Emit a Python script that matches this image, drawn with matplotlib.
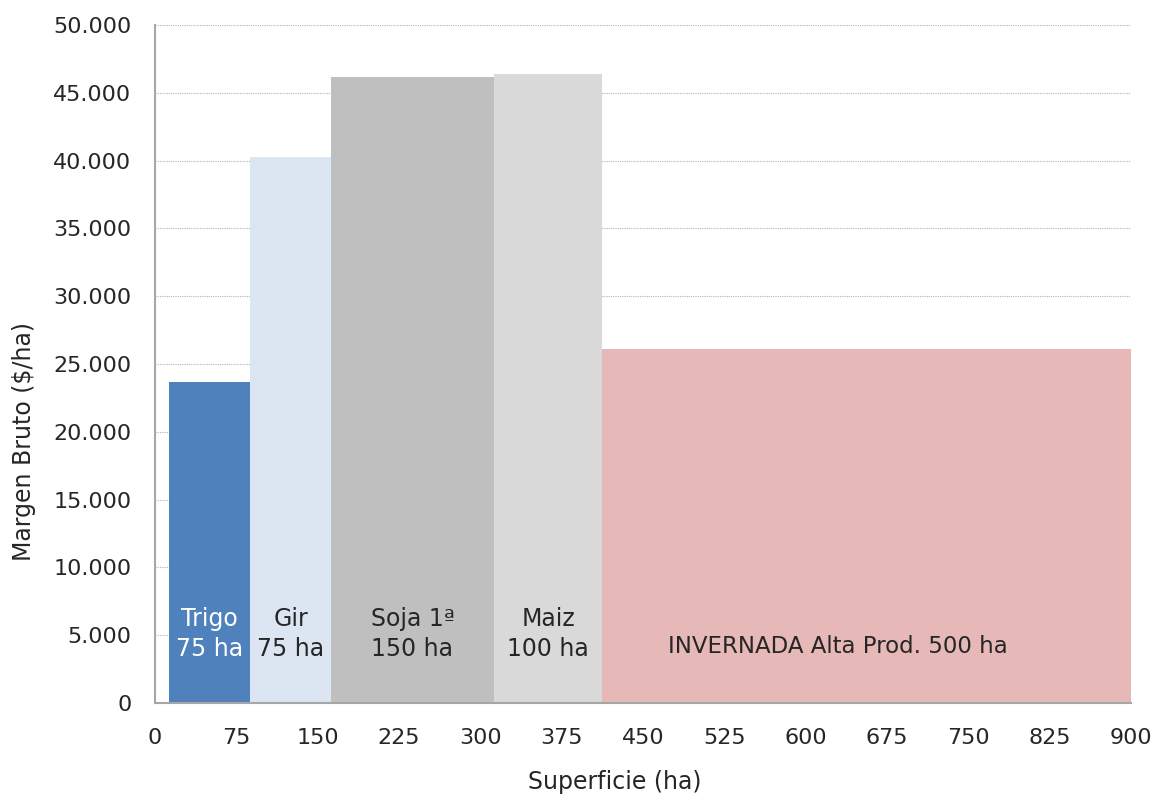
import matplotlib.pyplot as plt
from matplotlib.ticker import FuncFormatter

# datos: cultivo, superficie (ha) y margen bruto ($/ha)
cultivos = ['Trigo\n75 ha', 'Gir\n75 ha', 'Soja 1ª\n150 ha', 'Maiz\n100 ha', 'INVERNADA Alta Prod. 500 ha']
superficie = [75, 75, 150, 100, 500]
margen = [23700, 40300, 46150, 46400, 26100]
colores = ['#4f81bd', '#dce6f2', '#bfbfbf', '#d9d9d9', '#e6b8b7']
color_texto = ['white', '#262626', '#262626', '#262626', '#262626']

x_ticks = list(range(0, 901, 75))
y_ticks = list(range(0, 50001, 5000))

inicio = 12.5  # desplazamiento del primer bloque (como en el original)

plt.rcParams['font.family'] = 'DejaVu Sans'

fig = plt.figure(figsize=(11.54, 7.98), dpi=100)
ax = fig.add_axes([0.1343, 0.119, 0.8456, 0.8497])

izq = inicio
for cult, w, m, c, tc in zip(cultivos, superficie, margen, colores, color_texto):
    ax.bar(izq, m, width=w, align='edge', color=c, zorder=2)
    if '\n' in cult:
        ax.text(izq + w / 2, 5100, cult, ha='center', va='center', fontsize=17,
                color=tc, linespacing=1.3, zorder=3)
    else:
        # la etiqueta larga queda algo a la izquierda del centro visible
        ax.text(izq + 0.435 * w, 4150, cult, ha='center', va='center', fontsize=16.5,
                color=tc, zorder=3)
    izq += w

ax.set_xlim(0, 900)
ax.set_ylim(0, 50000)
ax.set_xticks(x_ticks)
ax.set_yticks(y_ticks)
ax.yaxis.set_major_formatter(FuncFormatter(lambda v, p: f'{int(v):,}'.replace(',', '.')))
ax.tick_params(axis='both', length=0, labelsize=16, colors='#262626')
ax.tick_params(axis='x', pad=18)
ax.tick_params(axis='y', pad=17)

ax.yaxis.grid(True, linestyle=(0, (1, 1)), color='#b4b4b4', linewidth=0.8, zorder=0)
ax.set_axisbelow(True)

for s in ['top', 'right']:
    ax.spines[s].set_visible(False)
for s in ['left', 'bottom']:
    ax.spines[s].set_color('#a6a6a6')
    ax.spines[s].set_linewidth(1.5)

ax.set_xlabel('Superficie (ha)', fontsize=17, color='#262626', va='center')
ax.set_ylabel('Margen Bruto ($/ha)', fontsize=17, color='#262626', va='center')
ax.xaxis.set_label_coords(0.471, -0.1165)
ax.yaxis.set_label_coords(-0.134, 0.386)

fig.savefig('out.png', dpi=100)
